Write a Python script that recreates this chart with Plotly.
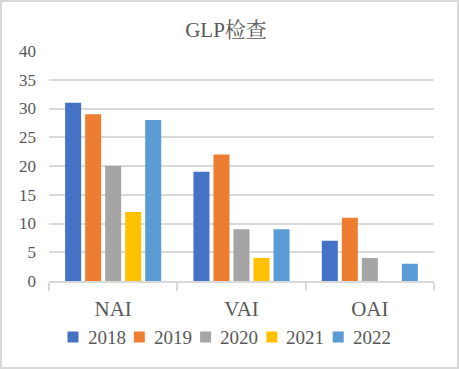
import plotly.graph_objects as go

categories = ["NAI", "VAI", "OAI"]
years = ["2018", "2019", "2020", "2021", "2022"]
v2018 = [31, 19, 7]
v2019 = [29, 22, 11]
v2020 = [20, 9, 4]
v2021 = [12, 4, 0]
v2022 = [28, 9, 3]
series = [v2018, v2019, v2020, v2021, v2022]
colors = ["#4472C4", "#ED7D31", "#A5A5A5", "#FFC000", "#5B9BD5"]
yticks = [0, 5, 10, 15, 20, 25, 30, 35, 40]

W, H = 459, 369
L, R, T, B = 49, 25, 51, 88
font = "Liberation Serif, Times New Roman, Noto Serif CJK SC, Noto Sans CJK SC, serif"
txt = "#595959"

fig = go.Figure()
for y, vals, c in zip(years, series, colors):
    fig.add_trace(go.Bar(x=categories, y=vals, name=y, showlegend=False,
                         marker=dict(color=c, line=dict(width=0))))

pw = W - L - R
ph = H - T - B

def px_x(x):
    return (x - L) / pw

def px_y(y):
    return (H - B - y) / ph

shapes = [dict(type="rect", xref="paper", yref="paper",
               x0=px_x(1), x1=px_x(W - 1), y0=px_y(H - 1), y1=px_y(1),
               line=dict(color="#d9d9d9", width=2), fillcolor="rgba(0,0,0,0)", layer="below")]
annotations = []
# legend (built from series names / colours)
leg_x0, leg_step, leg_y, sq = 67.5, 66.3, 337, 11
for i, (name, c) in enumerate(zip(years, colors)):
    x0 = leg_x0 + i * leg_step
    shapes.append(dict(type="rect", xref="paper", yref="paper",
                       x0=px_x(x0), x1=px_x(x0 + sq), y0=px_y(leg_y + sq / 2), y1=px_y(leg_y - sq / 2),
                       line=dict(width=0), fillcolor=c))
    annotations.append(dict(text=name, xref="paper", yref="paper", x=px_x(x0 + sq + 7), y=px_y(leg_y),
                            xanchor="left", yanchor="middle", showarrow=False,
                            font=dict(size=19, color=txt, family=font)))

fig.update_layout(
    width=W, height=H,
    margin=dict(l=L, r=R, t=T, b=B, pad=0),
    paper_bgcolor="white", plot_bgcolor="white",
    barmode="group", bargap=0.22, bargroupgap=0.2,
    font=dict(family=font, color=txt, size=17),
    title=dict(text="GLP检查", x=226 / W, xanchor="center", y=1 - 30 / H, yanchor="middle",
               font=dict(size=21, color=txt, family=font)),
    showlegend=False,
    xaxis=dict(showgrid=False, showline=True, linecolor="#d9d9d9", linewidth=1.5,
               ticks="outside", tickson="boundaries", ticklen=8, tickcolor="#d9d9d9", tickwidth=1.5,
               tickfont=dict(size=21, color=txt, family=font), fixedrange=True,
               automargin=False, ticklabelstandoff=8),
    yaxis=dict(range=[0, 40], tickvals=yticks, showgrid=True, gridcolor="#d9d9d9", gridwidth=1.5,
               zeroline=False, showline=False, ticks="", tickfont=dict(size=17, color=txt, family=font),
               ticklabelstandoff=12, automargin=False, fixedrange=True),
    shapes=shapes,
    annotations=annotations,
)
fig.write_html("out.html", config={"displayModeBar": False},
               post_script="document.body.style.margin='0';")
